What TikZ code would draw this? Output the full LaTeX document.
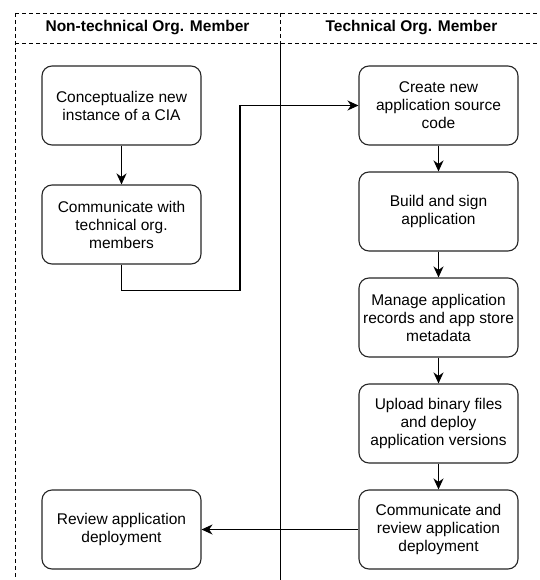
\documentclass[tikz,border=0pt]{standalone}
\usepackage{fontspec}
\setmainfont{Liberation Sans}
\usetikzlibrary{arrows.meta}
\tikzstyle{box} = [rectangle, rounded corners=10pt, minimum width=159pt, minimum height=79pt, text centered, align=center, draw=black!85, line width=1.1pt, fill=white]
\tikzstyle{lanehead} = [font=\fontsize{15.5}{18}\selectfont\bfseries]
\tikzstyle{arrow} = [line width=1.6pt, -{Stealth[length=11pt, width=10pt, inset=3.5pt]}]
\tikzstyle{link} = [line width=1.1pt, -{Stealth[length=11pt, width=10pt, inset=3.5pt]}]
\tikzstyle{lane} = [line width=0.9pt, dash pattern=on 4pt off 3pt]

\begin{document}
\begin{tikzpicture}[node distance=106pt, every node/.style={font=\fontsize{15.5}{18}\selectfont}]
\useasboundingbox (0pt,0pt) rectangle (539pt,-580pt);

%Swimlanes
\draw [lane] (15pt,-13pt) -- (539pt,-13pt);
\draw [lane] (15pt,-43pt) -- (539pt,-43pt);
\draw [lane] (15pt,-13pt) -- (15pt,-580pt);
\draw [lane] (280pt,-13pt) -- (280pt,-43pt);
\draw [line width=0.7pt] (280pt,-43pt) -- (280pt,-580pt);
\node (nontech) [lanehead] at (147.5pt,-28pt) {Non-technical Org. Member};
\node (tech) [lanehead] at (411.5pt,-28pt) {Technical Org. Member};

%Non-technical member
\node (concept) [box] at (121.5pt,-105.5pt) {Conceptualize new\\instance of a CIA};
\node (commtech) [box, below of=concept, yshift=-13pt] {Communicate with\\technical org.\\members};

%Technical member
\node (create) [box] at (438.5pt,-105.5pt) {Create new\\application source\\code};
\node (build) [box, below of=create] {Build and sign\\application};
\node (manage) [box, below of=build] {Manage application\\records and app store\\metadata};
\node (upload) [box, below of=manage] {Upload binary files\\and deploy\\application versions};
\node (commrev) [box, below of=upload] {Communicate and\\review application\\deployment};
\node (review) [box, left of=commrev, xshift=-211pt] {Review application\\deployment};

\coordinate (bend) at (240pt,-290.5pt);

\draw [arrow] (concept.south) -- (commtech.north);
\draw [link] (commtech.south) |- (bend) |- (create.west);
\draw [arrow] (create.south) -- (build.north);
\draw [arrow] (build.south) -- (manage.north);
\draw [arrow] (manage.south) -- (upload.north);
\draw [arrow] (upload.south) -- (commrev.north);
\draw [link] (commrev.west) -- (review.east);
\end{tikzpicture}
\end{document}
